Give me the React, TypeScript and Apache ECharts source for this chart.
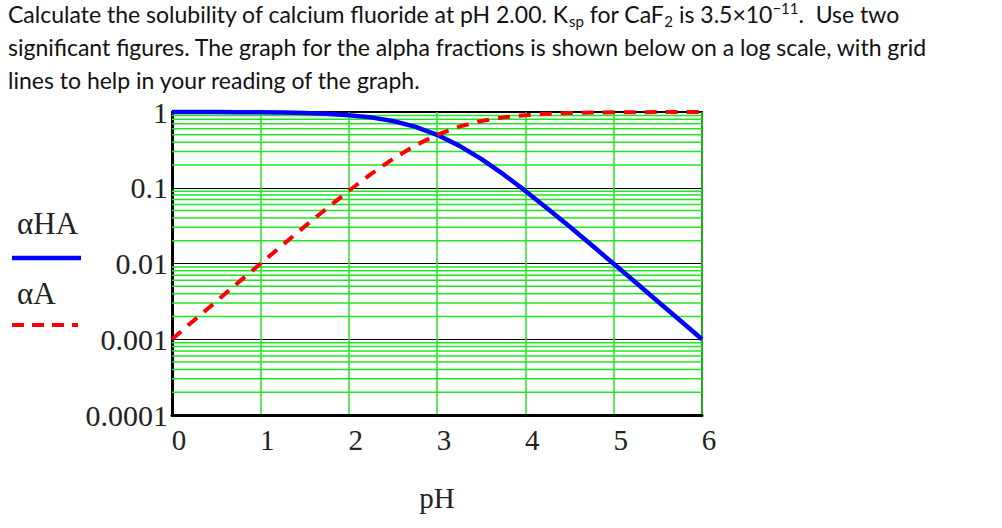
import React, { useEffect, useRef } from "react";
import * as echarts from "echarts";

// ---- data ----
const pH = [0, 0.25, 0.5, 0.75, 1, 1.25, 1.5, 1.75, 2, 2.25, 2.5, 2.75, 3, 3.25, 3.5, 3.75, 4, 4.25, 4.5, 4.75, 5, 5.25, 5.5, 5.75, 6];
const alphaHA = [0.999, 0.998, 0.997, 0.994, 0.99, 0.983, 0.969, 0.947, 0.909, 0.849, 0.76, 0.64, 0.5, 0.36, 0.24, 0.151, 0.0909, 0.0532, 0.0307, 0.0175, 0.0099, 0.0056, 0.00315, 0.00178, 0.000999];
const alphaA = [0.000999, 0.00178, 0.00315, 0.0056, 0.0099, 0.0175, 0.0307, 0.0532, 0.0909, 0.151, 0.24, 0.36, 0.5, 0.64, 0.76, 0.849, 0.909, 0.947, 0.969, 0.983, 0.99, 0.994, 0.997, 0.998, 0.999];
const xTickLabels = ["0", "1", "2", "3", "4", "5", "6"];
const yTickLabels = ["0.0001", "0.001", "0.01", "0.1", "1"];
const decades = [0.0001, 0.001, 0.01, 0.1];
const minorSteps = [2, 3, 4, 5, 6, 7, 8, 9];
const xRange = [0, 6];

const line1 = "Calculate the solubility of calcium fluoride at pH 2.00. K{sub|sp} for CaF{sub|2} is 3.5×10{sup|−11}.  Use two";
const line2 = "significant figures. The graph for the alpha fractions is shown below on a log scale, with grid";
const line3 = "lines to help in your reading of the graph.";
const legendHA = "αHA";
const legendA = "αA";
const xName = "pH";

const GREEN = "#22e622";
const SERIF = "'Liberation Serif', 'Times New Roman', serif";
const SANS = "Lato, 'Open Sans', sans-serif";

export default function App() {
  const ref = useRef<HTMLDivElement>(null);
  useEffect(() => {
    if (!ref.current) return;
    const chart = echarts.init(ref.current, null, { renderer: "svg" });
    const minorSeries: any[] = [];
    decades.forEach((d) =>
      minorSteps.forEach((m) =>
        minorSeries.push({
          type: "line",
          data: [[xRange[0], d * m], [xRange[1], d * m]],
          showSymbol: false,
          silent: true,
          z: 1,
          lineStyle: { color: GREEN, width: 1.5 },
        })
      )
    );
    const titleStyle = { fontSize: 23, fontFamily: SANS, fill: "#111" };
    chart.setOption({
      animation: false,
      backgroundColor: "#fff",
      grid: { left: 172, top: 112, width: 530, height: 303, show: true, borderColor: "#000", borderWidth: 2, backgroundColor: "#fff", z: 0 },
      xAxis: {
        type: "value",
        min: xRange[0],
        max: xRange[1],
        interval: 1,
        name: xName,
        nameLocation: "middle",
        nameGap: 68,
        nameTextStyle: { fontFamily: SERIF, fontSize: 29, color: "#222" },
        axisLine: { show: true, onZero: false, lineStyle: { color: "#000", width: 3 } },
        axisTick: { show: false },
        splitLine: { show: true, lineStyle: { color: GREEN, width: 1.5 } },
        axisLabel: {
          formatter: (v: number) => xTickLabels[Math.round(v)] ?? "",
          fontFamily: SERIF,
          fontSize: 29,
          color: "#222",
          margin: 10,
          padding: [0, 0, 0, 14],
        },
      },
      yAxis: {
        type: "log",
        logBase: 10,
        min: 0.0001,
        max: 1,
        interval: 1,
        axisLine: { show: true, lineStyle: { color: "#000", width: 3 } },
        axisTick: { show: false },
        splitLine: { show: true, lineStyle: { color: "#000", width: 1.2 } },
        axisLabel: {
          formatter: (v: number) => yTickLabels[Math.round(Math.log10(v)) + 4] ?? "",
          fontFamily: SERIF,
          fontSize: 30,
          color: "#222",
          margin: 4,
          padding: [16, 0, 0, 0],
        },
      },
      series: [
        ...minorSeries,
        {
          type: "line",
          name: legendHA,
          data: pH.map((x, i) => [x, alphaHA[i]]),
          showSymbol: false,
          clip: false,
          z: 3,
          lineStyle: { color: "#0000ff", width: 4.5 },
        },
        {
          type: "line",
          name: legendA,
          data: pH.map((x, i) => [x, alphaA[i]]),
          showSymbol: false,
          clip: false,
          z: 4,
          lineStyle: { color: "#ff0000", width: 4, type: [12, 9] },
        },
      ],
      graphic: [
        {
          type: "text",
          left: 8,
          top: 0,
          style: {
            ...titleStyle,
            text: line1,
            lineHeight: 28,
            rich: {
              sub: { fontSize: 15, fontFamily: SANS, verticalAlign: "bottom", lineHeight: 15, fill: "#111" },
              sup: { fontSize: 15, fontFamily: SANS, verticalAlign: "top", lineHeight: 15, fill: "#111" },
            },
          },
        },
        { type: "text", left: 8, top: 33, style: { ...titleStyle, text: line2, lineHeight: 28 } },
        { type: "text", left: 8, top: 66, style: { ...titleStyle, text: line3, lineHeight: 28 } },
        { type: "text", left: 17, top: 208, style: { text: legendHA, fontFamily: SERIF, fontSize: 31, fill: "#222" } },
        { type: "line", shape: { x1: 12, y1: 258, x2: 81, y2: 258 }, style: { stroke: "#0000ff", lineWidth: 4.5 } },
        { type: "text", left: 17, top: 278, style: { text: legendA, fontFamily: SERIF, fontSize: 31, fill: "#222" } },
        { type: "line", shape: { x1: 12, y1: 325, x2: 78, y2: 325 }, style: { stroke: "#ff0000", lineWidth: 4, lineDash: [12, 8] } },
      ],
    });
    return () => chart.dispose();
  }, []);
  return <div ref={ref} style={{ position: "fixed", left: 0, top: 0, width: 1002, height: 528 }} />;
}
